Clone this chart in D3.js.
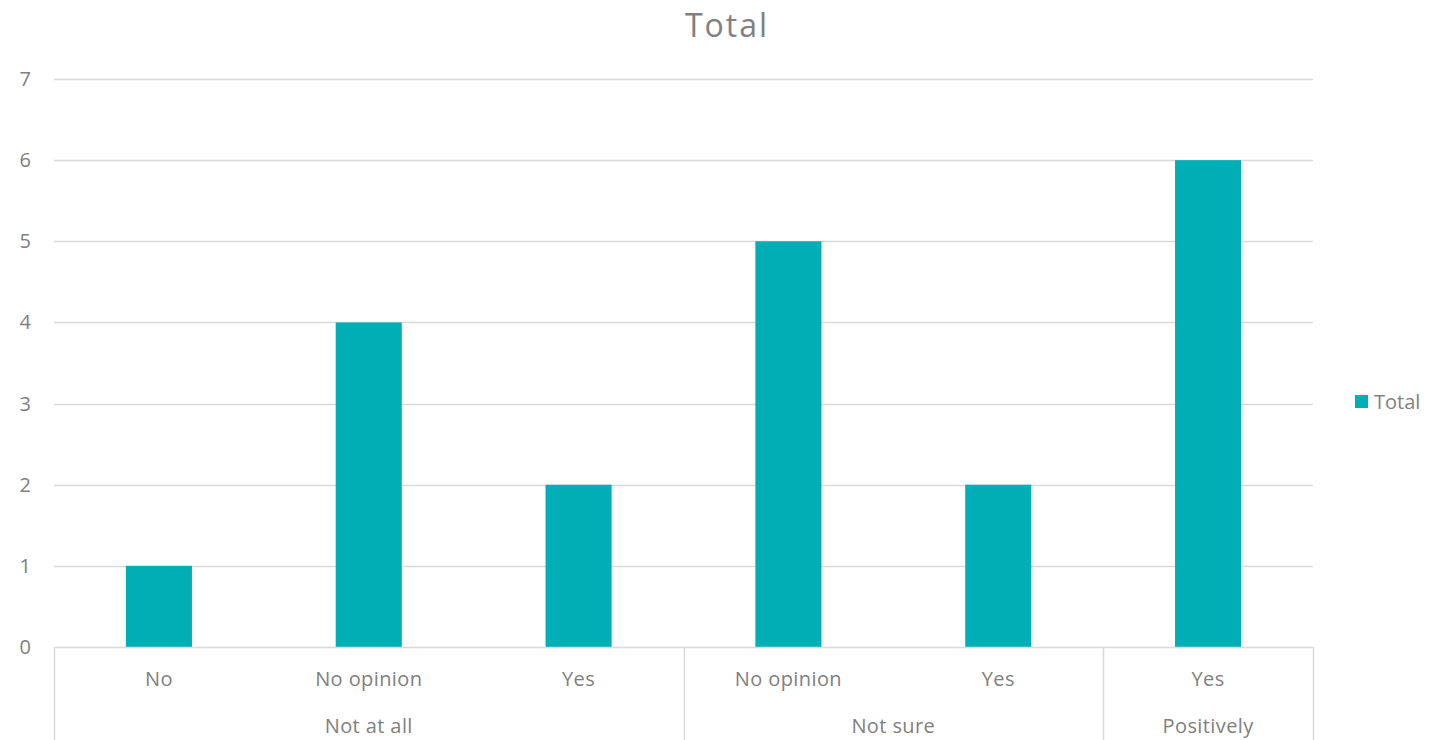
<!DOCTYPE html>
<html><head><meta charset="utf-8">
<script src="https://cdn.jsdelivr.net/npm/d3@7"></script>
<style>body{margin:0;background:#fff}svg{display:block}text{font-family:"Open Sans",sans-serif;fill:#808080}</style>
</head><body><svg id="c" width="1430" height="740"></svg>
<script>
const subLabels = ["No","No opinion","Yes","No opinion","Yes","Yes"];
const groupLabels = ["Not at all","Not at all","Not at all","Not sure","Not sure","Positively"];
const values = [1,4,2,5,2,6];
const yTicks = [0,1,2,3,4,5,6,7];
const seriesName = "Total";
const color = "#00AFB5";

const svg = d3.select("#c");
const L=54,R=1313,T=79,B=647;
const idx = values.map((d,i)=>i);
const x = d3.scaleBand().domain(idx).range([L,R]).paddingInner(0.685).paddingOuter(0.3425);
const band = (R-L)/values.length;
const y = d3.scaleLinear().domain([0,7]).range([B,T]);

svg.append("text").attr("x",727).attr("y",37).attr("text-anchor","middle")
  .style("font-size","32px").style("letter-spacing","2px").text(seriesName);

const g = svg.append("g");
g.selectAll("line.grid").data(yTicks.filter(d=>d>0)).join("line")
  .attr("x1",L).attr("x2",R).attr("y1",d=>Math.round(y(d))+0.5).attr("y2",d=>Math.round(y(d))+0.5)
  .attr("stroke","#d9d9d9").attr("stroke-width",1.5);
g.selectAll("text.yt").data(yTicks).join("text")
  .attr("x",31).attr("y",d=>y(d)).attr("dy","0.35em").attr("text-anchor","end")
  .style("font-size","20px").text(d=>d);

g.selectAll("rect").data(values).join("rect")
  .attr("x",(d,i)=>x(i)).attr("width",x.bandwidth())
  .attr("y",d=>y(d)).attr("height",d=>B-y(d)).attr("fill",color);

g.append("line").attr("x1",L).attr("x2",R).attr("y1",B+0.5).attr("y2",B+0.5).attr("stroke","#d9d9d9").attr("stroke-width",1.5);

g.selectAll("text.sl").data(subLabels).join("text")
  .attr("x",(d,i)=>x(i)+x.bandwidth()/2).attr("y",679).attr("dy","0.35em").attr("text-anchor","middle")
  .style("font-size","20px").style("letter-spacing","0.4px").text(d=>d);

const groups=[];
groupLabels.forEach((gname,i)=>{
  const last=groups[groups.length-1];
  if(last && last.name===gname) last.end=i; else groups.push({name:gname,start:i,end:i});
});
const bounds=[L].concat(groups.map(gr=>L+band*(gr.end+1)));
g.selectAll("line.sep").data(bounds).join("line")
  .attr("x1",d=>Math.round(d)+0.5).attr("x2",d=>Math.round(d)+0.5).attr("y1",B).attr("y2",740)
  .attr("stroke","#d9d9d9").attr("stroke-width",1.5);
g.selectAll("text.gl").data(groups).join("text")
  .attr("x",gr=>L+band*(gr.start+gr.end+1)/2).attr("y",726).attr("dy","0.35em").attr("text-anchor","middle")
  .style("font-size","20px").style("letter-spacing","0.4px").text(gr=>gr.name);

svg.append("rect").attr("x",1355).attr("y",395).attr("width",13).attr("height",13).attr("fill",color);
svg.append("text").attr("x",1374).attr("y",402).attr("dy","0.35em").style("font-size","20px").text(seriesName);
</script></body></html>
